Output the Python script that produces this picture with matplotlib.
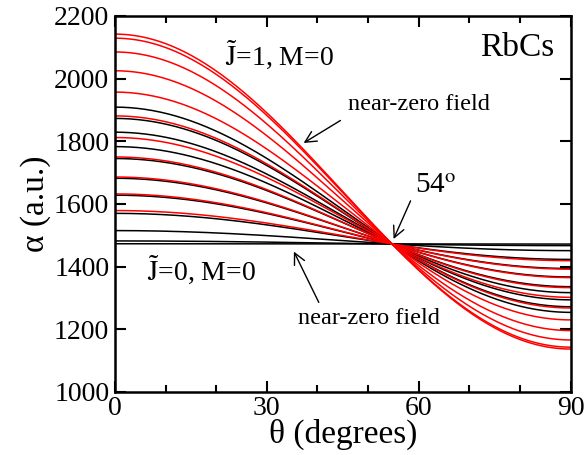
import numpy as np
import matplotlib
matplotlib.use('Agg')
import matplotlib.pyplot as plt
from matplotlib.ticker import MultipleLocator

plt.rcParams['font.family'] = ['Liberation Serif', 'DejaVu Serif']
plt.rcParams['mathtext.fontset'] = 'stix'

# polarizability at theta = 0 (parallel) and theta = 90 (perpendicular), a.u.
red_par = [2142, 2129, 2085, 2025, 1957, 1881, 1812, 1750, 1686, 1632, 1579]
red_perp = [1137, 1143, 1166, 1196, 1230, 1268, 1302, 1333, 1365, 1392, 1419]
black_par = [1909, 1873, 1829, 1783, 1745, 1682, 1628, 1570, 1515, 1482, 1473]
black_perp = [1254, 1272, 1294, 1317, 1336, 1367, 1394, 1423, 1451, 1467, 1472]

theta = np.linspace(0, 90, 181)
c2 = np.cos(np.radians(theta)) ** 2
s2 = 1 - c2

fig = plt.figure(figsize=(5.86, 4.55), dpi=100)
ax = fig.add_axes([0.196, 0.1385, 0.778, 0.8265])

for a_par, a_perp in zip(black_par, black_perp):
    ax.plot(theta, a_par * c2 + a_perp * s2, color='black', lw=1.1)
for a_par, a_perp in zip(red_par, red_perp):
    ax.plot(theta, a_par * c2 + a_perp * s2, color='red', lw=1.1)

ax.set_xlim(0, 90)
ax.set_ylim(1000, 2200)
ax.xaxis.set_major_locator(MultipleLocator(30))
ax.xaxis.set_minor_locator(MultipleLocator(10))
ax.yaxis.set_major_locator(MultipleLocator(200))
ax.tick_params(which='both', direction='in', top=True, right=True, labelsize=20, width=1.5)
ax.tick_params(which='major', length=8)
ax.tick_params(axis='y', pad=4)
ax.tick_params(axis='x', pad=3)
ax.tick_params(which='minor', length=5)
for sp in ax.spines.values():
    sp.set_linewidth(1.8)

ax.set_xlabel('θ (degrees)', fontsize=24, labelpad=-2)
ax.set_ylabel('α (a.u.)', fontsize=24, labelpad=2)

ax.text(0.965, 0.955, 'RbCs', transform=ax.transAxes, ha='right', va='top', fontsize=24)
ax.text(21.7, 2076, r'$\tilde{\rm J}$=1, M=0', ha='left', va='center', fontsize=20)
ax.text(6.3, 1389, r'$\tilde{\rm J}$=0, M=0', ha='left', va='center', fontsize=20)
ax.text(59.2, 1657, r'54$^{\rm o}$', ha='left', va='center', fontsize=21)

arrow = dict(arrowstyle='->', color='black', lw=1.0, mutation_scale=20)
ax.text(46, 1916, 'near-zero field', fontsize=17.5, ha='left', va='center')
ax.annotate('', xy=(36.8, 1790), xytext=(45, 1871), arrowprops=arrow)
ax.annotate('', xy=(54.8, 1480), xytext=(58.6, 1618), arrowprops=arrow)
ax.text(36.1, 1236, 'near-zero field', fontsize=17.5, ha='left', va='center')
ax.annotate('', xy=(35.1, 1456), xytext=(40.5, 1278), arrowprops=arrow)

fig.savefig('out.png', dpi=100)
